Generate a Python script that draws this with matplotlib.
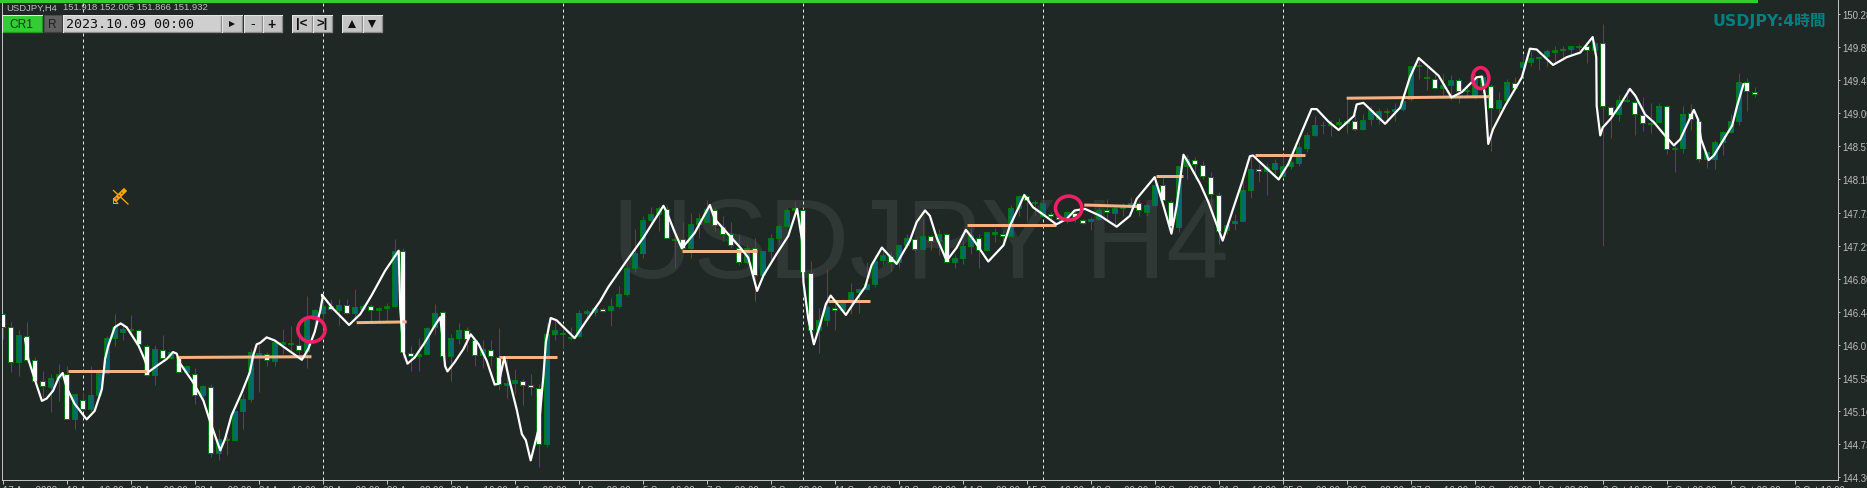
import numpy as np
import matplotlib
matplotlib.use("Agg")
import matplotlib.pyplot as plt
from matplotlib.patches import Rectangle, Ellipse

# =============================================================================
# Data (H4 bars)
# =============================================================================
opens = [146.41,146.24,145.79,146.13,145.82,145.54,145.47,145.59,145.64,145.06,
145.30,145.18,145.37,145.65,146.10,146.18,146.20,146.21,146.00,145.62,
145.95,145.84,145.85,145.66,145.64,145.36,145.47,144.62,144.79,144.79,
145.16,145.31,145.88,145.90,145.81,146.02,146.04,146.01,145.94,146.35,
146.43,146.52,146.46,146.53,146.43,146.48,146.52,146.46,146.49,146.52,
147.23,145.91,145.87,145.90,146.24,146.44,145.87,146.10,146.21,146.07,
145.88,145.95,145.85,145.50,145.52,145.55,145.49,145.46,144.73,146.15,
146.15,146.10,146.13,146.43,146.44,146.48,146.47,146.52,146.67,147.00,
147.20,147.63,147.70,147.77,147.37,147.38,147.27,147.58,147.60,147.76,
147.54,147.44,147.27,147.08,147.27,146.91,147.22,147.40,147.55,147.76,
147.76,146.94,146.20,146.34,146.49,146.46,146.57,146.69,146.73,146.80,
147.11,147.16,147.08,147.30,147.38,147.25,147.42,147.36,147.44,147.08,
147.13,147.29,147.39,147.24,147.45,147.44,147.42,147.78,147.94,147.86,
147.68,147.70,147.66,147.66,147.72,147.62,147.61,147.64,147.75,147.72,
147.78,147.79,147.85,147.73,147.82,148.08,147.86,147.54,148.33,148.40,
148.34,148.18,147.95,147.50,147.59,147.61,148.02,148.28,148.26,148.29,
148.19,148.33,148.36,148.56,148.73,148.85,148.85,148.87,148.88,148.91,
148.80,148.93,148.93,149.02,149.04,149.06,149.19,149.61,149.47,149.45,
149.33,149.37,149.43,149.29,149.23,149.35,149.36,149.07,149.18,149.40,
149.60,149.67,149.72,149.74,149.80,149.82,149.84,149.86,149.87,149.82,
149.91,149.09,148.99,149.18,149.15,148.98,148.87,148.89,149.10,148.54,
148.56,149.01,148.91,148.41,148.42,148.63,148.76,148.91,149.41,149.28]

highs = [146.43,146.31,146.21,146.31,145.86,145.67,145.64,145.77,145.74,145.38,
145.40,145.74,145.70,146.13,146.41,146.30,146.40,146.22,146.02,146.01,
146.14,145.93,145.86,145.74,145.72,145.49,145.51,144.93,144.84,145.16,
145.38,145.96,146.02,145.92,146.05,146.22,146.26,146.13,146.65,146.48,
146.63,146.61,146.61,146.61,146.74,146.54,146.54,146.50,146.56,147.38,
147.26,146.00,146.10,146.24,146.54,146.45,146.15,146.30,146.24,146.09,
146.07,146.07,146.23,145.83,145.70,145.57,145.64,145.51,146.30,146.33,
146.30,146.24,146.46,146.48,146.50,146.50,146.62,146.77,147.06,147.51,
147.68,147.80,147.81,147.81,147.51,147.60,147.72,147.72,147.88,147.80,
147.68,147.60,147.45,147.30,147.39,147.23,147.45,147.57,147.78,147.87,
147.77,147.10,146.49,146.99,146.61,146.61,146.81,146.74,147.08,147.17,
147.27,147.23,147.32,147.45,147.40,147.64,147.43,147.51,147.45,147.19,
147.36,147.53,147.45,147.47,147.52,147.50,147.82,147.95,147.95,147.88,
147.90,147.73,147.69,147.74,147.76,147.64,147.66,147.79,147.90,147.81,
147.85,147.92,147.88,147.85,148.20,148.20,147.88,148.33,148.47,148.44,
148.39,148.25,147.99,147.59,147.70,148.24,148.48,148.35,148.36,148.41,
148.48,148.44,148.63,148.76,148.97,148.90,148.92,148.95,149.20,149.00,
149.00,149.10,149.08,149.07,149.14,149.21,149.62,149.72,149.63,149.51,
149.51,149.50,149.46,149.34,149.51,149.50,149.38,149.28,149.45,149.48,
149.77,149.81,149.75,149.83,149.88,149.88,149.88,149.90,149.90,149.93,
150.16,149.10,149.24,149.33,149.17,149.21,149.14,149.14,149.11,148.59,
149.10,149.13,148.94,148.51,148.66,148.77,148.99,149.53,149.46,149.35]

lows = [146.09,145.66,145.61,145.79,145.53,145.29,145.15,145.29,145.06,144.92,
145.17,145.16,145.36,145.64,146.00,146.07,146.18,146.00,145.61,145.49,
145.83,145.83,145.65,145.64,145.25,145.25,144.57,144.53,144.59,144.78,
144.93,145.28,145.41,145.74,145.74,145.90,145.94,145.83,145.71,146.18,
146.35,146.45,146.27,146.41,146.37,146.45,146.30,146.30,146.31,146.50,
145.84,145.67,145.68,145.89,146.15,145.85,145.55,146.02,145.94,145.74,
145.72,145.74,145.43,145.33,145.38,145.23,145.36,144.44,144.69,146.07,
145.96,146.07,146.11,146.35,146.39,146.44,146.26,146.49,146.65,146.95,
147.13,147.55,147.49,147.39,147.01,147.24,147.13,147.40,147.60,147.49,
147.36,147.27,147.04,147.06,146.58,146.90,147.10,147.32,147.53,147.73,
146.65,146.18,145.91,146.26,146.20,146.45,146.41,146.43,146.73,146.76,
147.05,146.97,147.01,147.27,147.21,147.24,147.24,147.17,147.07,147.01,
147.06,147.19,147.01,147.23,147.34,147.34,147.42,147.68,147.61,147.69,
147.67,147.63,147.57,147.59,147.60,147.57,147.50,147.62,147.64,147.57,
147.68,147.73,147.68,147.68,147.81,147.86,147.47,147.47,148.16,148.16,
148.15,147.79,147.32,147.45,147.50,147.61,147.91,148.12,147.95,148.22,
148.17,148.29,148.32,148.51,148.71,148.74,148.71,148.78,148.75,148.78,
148.79,148.85,148.87,148.88,148.91,149.04,149.17,149.45,149.31,149.32,
149.21,149.18,149.14,149.23,149.19,149.23,148.52,148.99,149.17,149.30,
149.47,149.62,149.56,149.62,149.66,149.69,149.75,149.77,149.65,149.82,
147.29,148.69,148.90,149.15,148.72,148.77,148.75,148.88,148.48,148.25,
148.49,148.79,148.38,148.30,148.29,148.46,148.75,148.85,149.04,149.22]

closes = [146.24,145.79,146.14,145.82,145.55,145.48,145.58,145.64,145.06,145.38,
145.18,145.37,145.65,146.10,146.24,146.22,146.22,146.02,145.62,145.96,
145.84,145.92,145.66,145.74,145.37,145.48,144.62,144.80,144.80,145.16,
145.31,145.92,145.91,145.82,146.05,146.05,146.02,145.95,146.35,146.46,
146.52,146.48,146.53,146.43,146.50,146.52,146.46,146.49,146.51,147.23,
145.92,145.87,145.90,146.23,146.43,145.87,146.10,146.21,146.09,145.88,
145.96,145.87,145.51,145.52,145.56,145.50,145.47,144.73,146.15,146.21,
146.16,146.11,146.43,146.45,146.49,146.45,146.51,146.67,147.00,147.20,
147.63,147.70,147.78,147.40,147.38,147.26,147.58,147.65,147.77,147.56,
147.45,147.30,147.08,147.26,146.92,147.22,147.40,147.55,147.76,147.78,
146.96,146.20,146.34,146.50,146.47,146.57,146.69,146.73,146.80,147.10,
147.17,147.09,147.30,147.39,147.25,147.42,147.36,147.44,147.09,147.13,
147.29,147.43,147.24,147.47,147.47,147.42,147.78,147.94,147.88,147.85,
147.85,147.68,147.64,147.73,147.66,147.59,147.64,147.75,147.73,147.78,
147.81,147.85,147.75,147.82,148.08,147.88,147.55,148.32,148.42,148.35,
148.20,147.96,147.49,147.56,147.61,148.02,148.29,148.26,148.31,148.36,
148.33,148.37,148.57,148.73,148.85,148.86,148.87,148.89,148.91,148.80,
148.92,149.05,149.03,149.03,149.06,149.17,149.61,149.63,149.46,149.33,
149.37,149.44,149.29,149.31,149.45,149.48,149.07,149.18,149.41,149.33,
149.67,149.72,149.73,149.81,149.82,149.84,149.87,149.87,149.82,149.91,
149.10,148.98,149.18,149.16,148.99,148.88,148.88,149.10,148.54,148.56,
149.00,148.93,148.41,148.50,148.64,148.76,148.91,149.41,149.29,149.25]

# hand drawn white line: bar position / price
line_bar = [2.8,3.2,4.0,4.9,5.5,6.3,7.0,7.5,8.0,9.0,10.5,11.5,12.4,12.8,13.2,14.0,14.75,15.5,17.0,17.8,
18.2,19.25,20.5,21.3,21.75,22.2,23.8,25.1,25.9,27.2,27.8,28.6,29.9,30.9,31.3,31.75,32.2,33.0,34.0,35.5,
37.4,38.2,39.0,39.7,40.0,39.9,41.3,43.3,44.7,46.1,47.8,49.5,49.7,50.1,50.6,51.5,52.8,54.0,54.7,54.9,
55.3,55.6,56.5,57.6,58.5,59.5,60.5,61.5,62.0,62.7,63.4,64.25,64.9,65.4,66.0,67.0,67.6,67.9,68.5,69.25,
71.5,73.0,74.7,75.7,78.0,80.1,82.6,83.0,84.0,84.9,86.5,88.4,89.0,92.2,93.2,94.3,95.1,96.75,98.2,99.3,
99.7,99.9,100.1,100.7,101.4,102.2,102.9,103.5,104.5,105.4,106.3,107.8,108.6,109.9,111.75,113.4,114.25,115.3,115.9,116.75,
118.0,119.25,120.4,121.3,123.2,125.1,125.9,127.0,127.7,128.8,130.3,131.7,133.0,134.0,135.3,137.2,139.25,140.9,141.75,144.0,
145.1,146.1,146.75,147.6,148.2,149.7,150.7,152.5,153.8,154.9,155.9,156.3,157.0,159.5,160.7,161.75,163.6,164.25,165.7,167.0,
168.9,169.25,170.1,172.8,174.7,175.9,177.0,179.5,181.1,182.4,184.25,184.9,185.3,185.7,186.3,187.8,189.9,190.9,191.75,193.8,
195.5,197.2,198.75,199.2,199.25,199.7,200.0,200.96,202.1,203.4,204.1,205.3,206.4,207.6,208.9,209.7,211.4,211.9,212.3,213.25,
213.9,216.2,216.8,217.6]
line_price = [146.09,145.83,145.57,145.29,145.32,145.42,145.59,145.65,145.46,145.25,145.05,145.16,145.44,145.83,146.00,146.24,146.29,146.24,146.00,145.81,
145.66,145.74,145.83,145.92,145.90,145.77,145.53,145.29,145.03,144.65,144.80,145.10,145.40,145.66,145.87,146.02,146.04,146.11,146.07,145.96,
145.82,145.96,146.18,146.46,146.63,146.66,146.48,146.27,146.41,146.65,146.97,147.23,146.48,145.92,145.77,145.85,146.05,146.26,146.37,146.18,
145.74,145.67,145.79,145.96,146.15,146.02,145.81,145.50,145.51,145.85,145.53,145.18,144.86,144.78,144.52,144.93,145.62,146.05,146.36,146.33,
146.10,146.33,146.58,146.76,147.10,147.40,147.81,147.73,147.47,147.26,147.46,147.82,147.64,147.27,147.14,146.71,146.91,147.19,147.42,147.77,
147.51,147.38,146.82,146.35,146.02,146.28,146.54,146.65,146.52,146.40,146.54,146.76,147.04,147.27,147.06,147.36,147.60,147.75,147.68,147.40,
147.10,147.27,147.50,147.38,147.09,147.30,147.55,147.79,147.95,147.79,147.68,147.57,147.64,147.75,147.77,147.68,147.54,147.68,147.90,148.18,
147.81,147.45,147.81,148.47,148.37,148.09,147.86,147.36,147.77,148.11,148.45,148.46,148.39,148.15,148.35,148.61,149.06,149.06,148.90,148.79,
148.97,149.12,149.14,148.87,149.08,149.47,149.72,149.49,149.21,149.28,149.47,149.48,149.23,148.61,148.80,149.10,149.47,149.84,149.83,149.63,
149.73,149.79,149.99,149.73,149.10,148.72,148.82,148.93,149.10,149.32,149.23,148.99,148.89,148.74,148.59,148.67,149.05,148.93,148.67,148.40,
148.46,148.85,149.10,149.38]

# orange level segments
level_start = [8.2,21.75,44.25,62.0,84.9,103.2,120.6,135.2,144.2,156.5,168.0]
level_end = [18.0,38.6,50.5,69.25,94.25,108.4,131.7,141.8,147.6,162.8,185.9]
level_price_a = [145.67,145.85,146.30,145.85,147.22,146.58,147.56,147.82,148.19,148.46,149.20]
level_price_b = [145.67,145.86,146.31,145.85,147.22,146.58,147.56,147.80,148.19,148.46,149.22]

# pink circles: bar, price, width in bars, height in price
circle_bar = [38.6,133.25,184.75]
circle_price = [146.21,147.78,149.46]
circle_w = [3.4,3.3,2.05]
circle_h = [0.32,0.31,0.27]

period_sep_bars = [10,40,70,100,130,160,190]

xtick_labels = ["17 Aug 2023","18 Aug 16:00","22 Aug 00:00","23 Aug 08:00","24 Aug 16:00","28 Aug 00:00",
                "29 Aug 08:00","30 Aug 16:00","1 Sep 00:00","4 Sep 08:00","5 Sep 16:00","7 Sep 00:00",
                "8 Sep 08:00","11 Sep 16:00","13 Sep 00:00","14 Sep 08:00","15 Sep 16:00","19 Sep 00:00",
                "20 Sep 08:00","21 Sep 16:00","25 Sep 00:00","26 Sep 08:00","27 Sep 16:00","29 Sep 00:00",
                "2 Oct 08:00","3 Oct 16:00","5 Oct 00:00","6 Oct 08:00","9 Oct 16:00"]
ytick_values = [150.285,149.858,149.431,149.004,148.577,148.150,147.723,147.296,
                146.869,146.442,146.015,145.588,145.161,144.734,144.307]

# =============================================================================
# Plot parameters
# =============================================================================
W, H = 1867, 489
BG = '#1f2825'
GRAY = '#c0c0c0'
PX = 0.72  # one pixel in points at dpi 100
plt.rcParams['font.family'] = ['Liberation Sans', 'DejaVu Sans']

fig = plt.figure(figsize=(W / 100, H / 100), dpi=100, facecolor=BG)
ax = fig.add_axes([1.5 / W, (H - 480.5) / H, (1837.5 - 1.5) / W, 480.5 / H], facecolor=BG)
ax.set_xlim((1.5 - 2.67) / 8, (1837.5 - 2.67) / 8)
ax.set_ylim(150.482 - 0.004307 * 1441.5, 150.482)

# watermark
ax.text(0.3325, 0.4214, 'USDJPY H4', transform=ax.transAxes, fontsize=81, color='#2f3835',
        va='baseline', ha='left', zorder=0)

# period separators
ax.vlines(period_sep_bars, ax.get_ylim()[0], 150.482, colors='#e8e8e8', linewidth=PX,
          linestyles=(0, (3, 3)), zorder=1)

# candles
bars = np.arange(len(opens))
opens = np.array(opens)
closes = np.array(closes)
up = closes >= opens
ax.vlines(bars, lows, highs, colors='#007a10', linewidth=PX, zorder=2)
body_low = np.minimum(opens, closes)
body_h = np.abs(closes - opens)
ax.bar(bars, body_h, bottom=body_low, width=0.56,
       color=np.where(up, '#006c6c', '#ffffff'), edgecolor='#007a10', linewidth=PX, zorder=3)

# levels
for i in range(len(level_start)):
    ax.plot([level_start[i], level_end[i]], [level_price_a[i], level_price_b[i]],
            color='#f4b183', linewidth=3.0 * PX, solid_capstyle='butt', zorder=4)

# hand drawn line
ax.plot(line_bar, line_price, color='#ffffff', linewidth=2.2 * PX, solid_joinstyle='round', zorder=5)

# circles
for i in range(len(circle_bar)):
    ax.add_patch(Ellipse((circle_bar[i], circle_price[i]), circle_w[i], circle_h[i], fill=False,
                         edgecolor='#ee1f63', linewidth=3.6 * PX, zorder=6))

# axes
for s in ['top']:
    ax.spines[s].set_visible(False)
for s in ['left', 'right', 'bottom']:
    ax.spines[s].set_color(GRAY)
    ax.spines[s].set_linewidth(PX)

ax.set_xticks(np.arange(len(xtick_labels)) * 8)
ax.set_xticklabels(xtick_labels, ha='left', fontsize=6.9, color=GRAY)
ax.tick_params(axis='x', length=3, width=PX, color=GRAY, pad=1.2)
ax.yaxis.tick_right()
ax.set_yticks(ytick_values)
ax.set_yticklabels(['%.3f' % v for v in ytick_values], fontsize=6.9, color=GRAY)
ax.tick_params(axis='y', length=1.5, width=PX, color=GRAY, pad=2.0)

# =============================================================================
# Terminal overlay, in pixels
# =============================================================================
ov = fig.add_axes([0, 0, 1, 1], facecolor='none')
ov.set_xlim(0, W)
ov.set_ylim(H, 0)
ov.axis('off')

ov.add_patch(Rectangle((0, 0), 1758, 3.5, color='#33cc33', lw=0))
ov.text(6.5, 8, 'USDJPY,H4', fontsize=6.8, color=GRAY, va='center')
ov.text(63, 8, '151.918 152.005 151.866 151.932', fontsize=6.8, color=GRAY, va='center')


def button(x0, x1, face, edge='#8a8a8a'):
    ov.add_patch(Rectangle((x0, 16), x1 - x0, 17, facecolor=face, edgecolor='none'))
    ov.plot([x0, x1, x1], [33, 33, 16], color=edge, linewidth=1.3 * PX)
    ov.plot([x0, x0, x1], [33, 16, 16], color='#e6e6e6' if face != '#606060' else '#4a4a4a', linewidth=PX)


button(2, 42, '#33cc33', '#1f9a1f')
ov.text(21, 25, 'CR1', fontsize=8.6, color='#173a17', ha='center', va='center')
button(44, 62, '#606060', '#3f3f3f')
ov.text(52.5, 25, 'R', fontsize=8.6, color='#202020', ha='center', va='center')
button(63, 221, '#cfcfcf')
ov.text(66, 24.5, '2023.10.09 00:00', fontsize=9.6, family='DejaVu Sans Mono', color='#101010', va='center')
for x0, x1 in [(222, 242), (244, 262), (263, 282), (292, 312), (313, 332), (342, 362), (363, 382)]:
    button(x0, x1, '#c4c4c4')
ov.plot([231.5], [25], marker='>', markersize=5, color='#101010', markeredgewidth=0)
ov.text(252.5, 24.5, '-', fontsize=10, color='#101010', ha='center', va='center')
ov.text(272, 24.5, '+', fontsize=10, color='#101010', ha='center', va='center', weight='bold')
ov.text(302, 24.5, '|<', fontsize=9.5, color='#101010', ha='center', va='center', weight='bold')
ov.text(322, 24.5, '>|', fontsize=9.5, color='#101010', ha='center', va='center', weight='bold')
ov.plot([352], [25], marker='^', markersize=5.5, color='#101010', markeredgewidth=0)
ov.plot([372], [25], marker='v', markersize=5.5, color='#101010', markeredgewidth=0)

# drawing tool icon
ov.plot([113.5, 128], [191.5, 205], color='#ffa500', linewidth=1.3 * PX)
ov.plot([116, 124], [200, 192], color='#ffa500', linewidth=4.5 * PX)
ov.plot([116, 124], [200, 192], color='#5a4a10', linewidth=1.5 * PX, linestyle=(0, (1, 1.5)))
ov.plot([113.5, 113.5, 118, 113.5], [199.5, 204.5, 204.5, 199.5], color='#ffa500', linewidth=PX)

ov.text(1826, 21, 'USDJPY:4時間', fontsize=11.3, family=['DejaVu Sans', 'Noto Sans CJK JP'], weight='bold',
        color='#008080', ha='right', va='center')

fig.savefig('out.png', dpi=100, facecolor=BG)
plt.close()
